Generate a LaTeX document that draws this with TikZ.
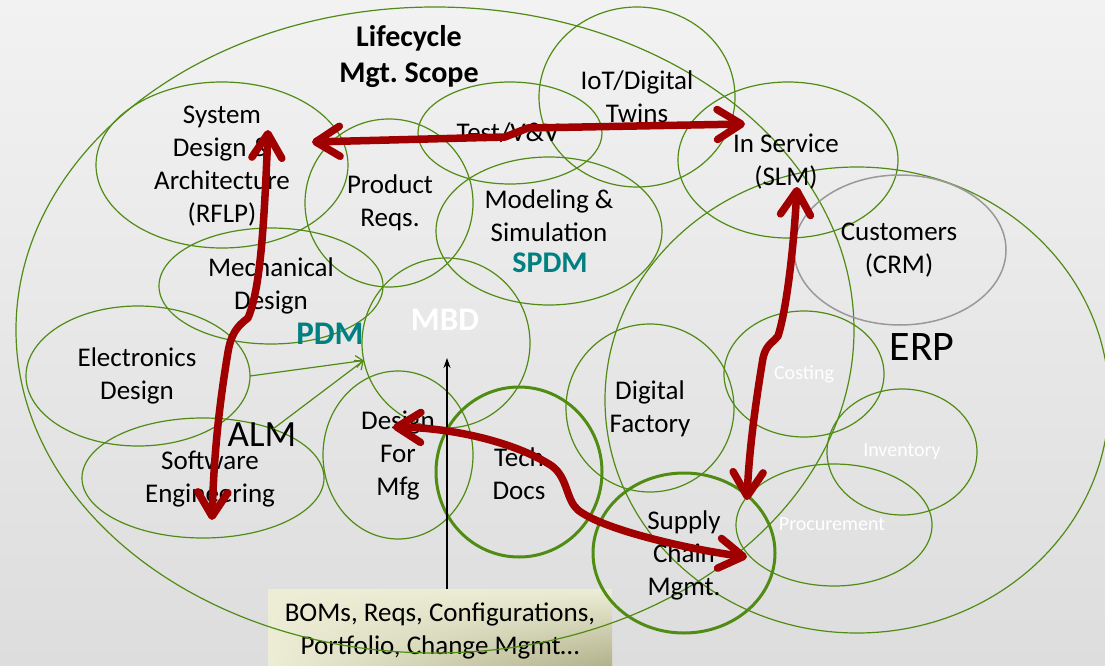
\documentclass[tikz,border=0pt]{standalone}
\usepackage{fontspec}
\setmainfont{Carlito}
\usetikzlibrary{shapes.geometric,arrows.meta,shadings}
\definecolor{zonegreen}{RGB}{80,140,20}
\definecolor{arrowred}{RGB}{160,0,0}
\definecolor{pdmteal}{RGB}{0,128,128}
\definecolor{bgtop}{RGB}{242,242,242}
\definecolor{bgbottom}{RGB}{221,221,221}
\definecolor{boxcream}{RGB}{237,237,214}
\definecolor{boxdark}{RGB}{150,150,105}

\begin{document}
\begin{tikzpicture}[
  x=1pt,
  y=-1pt,
  zone/.style 2 args={
    ellipse,
    draw=zonegreen,
    line width=1.2pt,
    inner sep=0pt,
    outer sep=0pt,
    minimum width=#1,
    minimum height=#2
  },
  thickzone/.style 2 args={
    zone={#1}{#2},
    line width=3pt
  },
  lbl/.style={
    align=center,
    inner sep=0pt,
    font=\fontsize{27}{33}\selectfont
  },
  teallbl/.style={
    inner sep=0pt,
    text=pdmteal,
    font=\fontsize{33}{36}\selectfont\bfseries
  },
  whitelbl/.style={
    inner sep=0pt,
    text=white,
    font=\fontsize{20}{24}\selectfont
  },
  biglbl/.style={
    inner sep=0pt,
    font=\fontsize{#1}{#1}\selectfont
  },
  bomsbox/.style={
    rectangle,
    inner sep=0pt,
    align=center,
    upper left=boxcream,
    upper right=boxcream,
    lower left=boxcream,
    lower right=boxdark!75!boxcream,
    font=\fontsize{27}{33}\selectfont
  },
  feed/.style={
    draw=zonegreen,
    line width=1.2pt,
    -{Straight Barb[length=7pt,width=12pt]}
  },
  upline/.style={
    draw=black,
    line width=1.2pt,
    -{Stealth[length=10pt,width=7pt]}
  },
  link/.style={
    draw=arrowred,
    line width=7.5pt,
    line cap=round,
    line join=round,
    <->,
    >={Straight Barb[round,length=24pt,width=30pt]}
  }
]
\shade[top color=bgtop, bottom color=bgbottom] (0,0) rectangle (1105,666);
\useasboundingbox (0,0) rectangle (1105,666);
\node[bomsbox, minimum width=344pt, minimum height=84pt] (boms) at (440,631) {BOMs, Reqs, Configurations,\\Portfolio, Change Mgmt…};
\node[zone={838pt}{646pt}] (scope) at (435,330) {};
\node[zone={504pt}{466pt}] (erp) at (857,400) {};
\node[zone={252pt}{166pt}] (sysd) at (222,165) {};
\node[zone={168pt}{168pt}] (preq) at (389,203) {};
\node[zone={184pt}{102pt}] (test) at (510,133) {};
\node[zone={196pt}{180pt}] (iot) at (637,97) {};
\node[zone={220pt}{156pt}] (slm) at (788,160) {};
\node[zone={212pt}{150pt}, draw=gray!80, line width=1.5pt] (crm) at (900,250) {};
\node[zone={226pt}{148pt}] (msim) at (549,231) {};
\node[zone={224pt}{116pt}] (mech) at (271,286) {};
\node[zone={168pt}{170pt}] (mbd) at (446,343) {};
\node[zone={224pt}{140pt}] (elec) at (138,376) {};
\node[zone={242pt}{120pt}] (soft) at (203,478) {};
\node[zone={150pt}{168pt}] (dfm) at (398,455) {};
\node[thickzone={166pt}{170pt}] (tech) at (519,472) {};
\node[zone={168pt}{168pt}] (dfac) at (650,408) {};
\node[zone={160pt}{126pt}] (cost) at (804,374) {};
\node[zone={150pt}{126pt}] (inv) at (902,452) {};
\node[zone={196pt}{122pt}] (proc) at (834,525) {};
\node[thickzone={182pt}{160pt}] (scm) at (684,553) {};
\node[lbl, font=\fontsize{30}{36}\selectfont\bfseries] (t-scope) at (409,57) {Lifecycle\\Mgt.\ Scope};
\node[lbl] (t-sysd) at (222,166) {System\\Design \&\\Architecture\\(RFLP)};
\node[lbl] (t-preq) at (390,203) {Product\\Reqs.};
\node[lbl] (t-test) at (508,133) {Test/V\&V};
\node[lbl] (t-iot) at (637,97) {IoT/Digital\\Twins};
\node[lbl] (t-slm) at (786,162) {In Service\\(SLM)};
\node[lbl] (t-msim) at (549,216) {Modeling \&\\Simulation};
\node[teallbl, font=\fontsize{30}{36}\selectfont\bfseries] (t-spdm) at (550,263) {SPDM};
\node[lbl] (t-crm) at (899,250) {Customers\\(CRM)};
\node[lbl] (t-mech) at (271,286) {Mechanical\\Design};
\node[teallbl] (t-pdm) at (330,334) {PDM};
\node[teallbl, text=white] (t-mbd) at (445,320) {MBD};
\node[lbl] (t-elec) at (137,376) {Electronics\\Design};
\node[biglbl=37] (t-alm) at (262,435) {ALM};
\node[lbl] (t-soft) at (210,479) {Software\\Engineering};
\node[lbl] (t-dfm) at (398,456) {Design\\For\\Mfg};
\node[lbl] (t-tech) at (519,474) {Tech\\Docs};
\node[lbl] (t-dfac) at (650,409) {Digital\\Factory};
\node[biglbl=42] (t-erp) at (922,347) {ERP};
\node[whitelbl] (t-cost) at (804,374) {Costing};
\node[whitelbl] (t-inv) at (902,452) {Inventory};
\node[whitelbl] (t-proc) at (832,524) {Procurement};
\node[lbl] (t-scm) at (684,555) {Supply\\Chain\\Mgmt.};
\coordinate (mbdtip) at (447,358);
\draw[feed] (elec.east) -- (mbd.192);
\draw[feed] (soft.35) -- (mbd.192);
\draw[upline] (boms.north -| mbdtip) -- (mbdtip);
\coordinate (a-sysd) at (312,142);
\coordinate (a-slm) at (745,124);
\coordinate (a-rflp) at (268,130);
\coordinate (a-soft) at (212,520);
\coordinate (a-slm2) at (797,187);
\coordinate (a-proc) at (747,500);
\coordinate (a-dfm) at (393,427);
\coordinate (a-scm) at (747,557);
\draw[link] (a-sysd) -- (505,137) -- (528,128) -- (a-slm);
\draw[link] (a-rflp) .. controls (264,230) and (260,290) .. (248,318) .. controls (236,327) and (231,335) .. (228,352) .. controls (220,400) and (214,450) .. (a-soft);
\draw[link] (a-slm2) .. controls (793,260) and (785,315) .. (778,336) .. controls (774,342) and (766,344) .. (763,358) .. controls (756,400) and (749,450) .. (a-proc);
\draw[link] (a-dfm) .. controls (460,428) and (520,445) .. (552,466) .. controls (568,478) and (566,500) .. (578,510) .. controls (600,528) and (680,548) .. (a-scm);
\end{tikzpicture}
\end{document}
